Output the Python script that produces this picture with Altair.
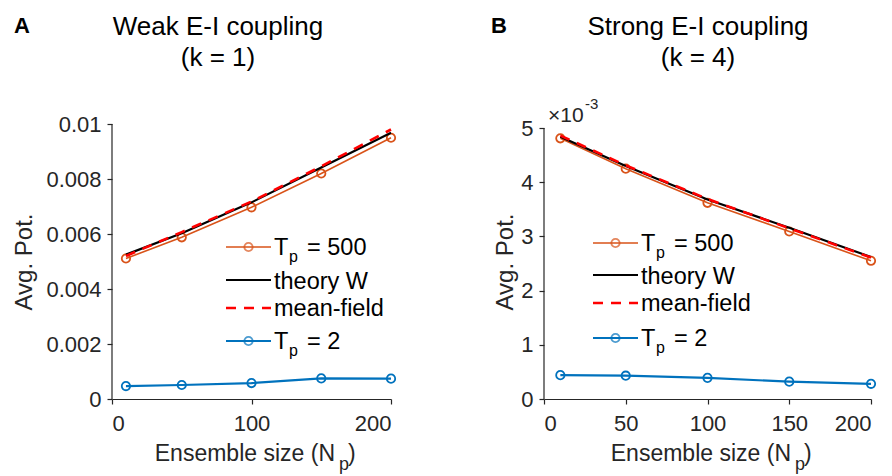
import altair as alt
import pandas as pd

# ---- data ----
ens_sizes = [10, 50, 100, 150, 200]

# Panel A (weak coupling, k = 1)
a_tp500 = [0.00511, 0.00588, 0.00697, 0.00820, 0.00950]
a_theory = [0.00525, 0.00603, 0.00715, 0.00842, 0.00968]
a_meanfield = [0.00520, 0.00607, 0.00718, 0.00846, 0.00980]
a_tp2 = [0.00047, 0.00051, 0.00058, 0.00075, 0.00074]

# Panel B (strong coupling, k = 4), values in units of 1e-3
b_tp500 = [4.81, 4.25, 3.62, 3.09, 2.55]
b_theory = [4.84, 4.30, 3.68, 3.16, 2.62]
b_meanfield = [4.86, 4.31, 3.69, 3.15, 2.61]
b_tp2 = [0.44, 0.43, 0.39, 0.32, 0.28]

a_xticks = [0, 100, 200]
b_xticks = [0, 50, 100, 150, 200]
a_yticks = [0, 0.002, 0.004, 0.006, 0.008, 0.01]
b_yticks = [0, 1, 2, 3, 4, 5]

series_names = ["Tp500", "theory", "meanfield", "Tp2"]

FONT = "Liberation Sans"
ORANGE = "#D95319"
BLUE = "#0072BD"
AXC = "#262626"
LEGF = 23.5


def one():
    return alt.Data(values=[{"a": 0}])


def txt(s, x, y, size=22, align="left", weight="normal", color="black"):
    return alt.Chart(one()).mark_text(
        text=s, align=align, baseline="alphabetic", fontSize=size,
        font=FONT, fontWeight=weight, color=color
    ).encode(x=alt.value(x), y=alt.value(y))


def panel(tp500, theory, mf, tp2, width, height, ydom, ytop, yticks, xticks,
          leg_x, leg_rows, title1, title2, tcx, tby, letter, lx, ly,
          xt_end, ytitle_pad, extra=None):
    rows = []
    for name, vals in zip(series_names, [tp500, theory, mf, tp2]):
        for xv, yv in zip(ens_sizes, vals):
            rows.append({"x": xv, "y": yv, "series": name})
    df = pd.DataFrame(rows)
    base = alt.Chart(df)
    X = alt.X("x:Q", scale=alt.Scale(domain=[0, 200], nice=False),
              axis=alt.Axis(values=xticks, title=None, format="d"))
    Y = alt.Y("y:Q", scale=alt.Scale(domain=ydom, nice=False),
              axis=alt.Axis(values=yticks, title="Avg. Pot.", format="~g",
                            domain=False, titlePadding=ytitle_pad))

    def flt(name):
        return base.transform_filter(alt.datum.series == name)

    # y axis line from 0 to the top tick value
    yline = alt.Chart(one()).mark_rule(color=AXC, strokeWidth=1.2).encode(
        x=alt.value(0), y=alt.Y(datum=0, scale=alt.Scale(domain=ydom, nice=False)),
        y2=alt.Y2(datum=ytop))

    l500 = flt("Tp500").mark_line(color=ORANGE, strokeWidth=1.6,
                                  point=alt.OverlayMarkDef(filled=False, color=ORANGE, size=70, strokeWidth=1.8)
                                  ).encode(x=X, y=Y)
    lth = flt("theory").mark_line(color="black", strokeWidth=2.2).encode(x=X, y=Y)
    lmf = flt("meanfield").mark_line(color="#FF0000", strokeWidth=2.6, strokeDash=[10, 8]).encode(x=X, y=Y)
    l2 = flt("Tp2").mark_line(color=BLUE, strokeWidth=2.2,
                              point=alt.OverlayMarkDef(filled=False, color=BLUE, size=70, strokeWidth=1.8)
                              ).encode(x=X, y=Y)

    layers = [l500, lth, lmf, l2, yline]

    # manual legend
    x0, x1 = leg_x, leg_x + 45
    xm = (x0 + x1) / 2
    tx = x1 + 3
    r500, rth, rmf, r2 = leg_rows

    def seg(y, color, sw, dash=None):
        kw = dict(color=color, strokeWidth=sw)
        if dash:
            kw["strokeDash"] = dash
        return alt.Chart(one()).mark_rule(**kw).encode(
            x=alt.value(x0), x2=alt.value(x1), y=alt.value(y))

    def mk(y, color):
        return alt.Chart(one()).mark_point(filled=False, color=color, size=70, strokeWidth=1.8).encode(
            x=alt.value(xm), y=alt.value(y))

    layers += [
        seg(r500, ORANGE, 1.6), mk(r500, ORANGE),
        txt("T", tx, r500 + 8, size=LEGF), txt("p", tx + 15, r500 + 15, size=16),
        txt("= 500", tx + 33, r500 + 8, size=LEGF),
        seg(rth, "black", 2.2), txt("theory W", tx, rth + 9, size=LEGF),
        seg(rmf, "#FF0000", 2.6, [10, 8]), txt("mean-field", tx, rmf + 8, size=LEGF),
        seg(r2, BLUE, 2.2), mk(r2, BLUE),
        txt("T", tx, r2 + 8, size=LEGF), txt("p", tx + 15, r2 + 15, size=16),
        txt("= 2", tx + 33, r2 + 8, size=LEGF),
    ]

    # titles and panel letter
    layers += [
        txt(title1, tcx, tby, size=26, align="center"),
        txt(title2, tcx, tby + 31, size=26, align="center"),
        txt(letter, lx, ly, size=22, weight="bold"),
    ]

    # x-axis title with subscript
    xb = height + 62
    layers += [
        txt("Ensemble size (N", xt_end, xb, size=23, align="right", color=AXC),
        txt("p", xt_end + 4, xb + 9, size=18, color=AXC),
        txt(")", xt_end + 13, xb, size=23, color=AXC),
    ]
    if extra:
        layers += extra
    return alt.layer(*layers).properties(width=width, height=height)


pa = panel(a_tp500, a_theory, a_meanfield, a_tp2, 279, 275, [0, 0.01], 0.01, a_yticks, a_xticks,
           leg_x=114, leg_rows=[123, 156, 184, 217],
           title1="Weak E-I coupling", title2="(k = 1)", tcx=106, tby=-89,
           letter="A", lx=-98, ly=-91, xt_end=223, ytitle_pad=9)

pb = panel(b_tp500, b_theory, b_meanfield, b_tp2, 327, 275, [0, 5 * 275 / 271], 5, b_yticks, b_xticks,
           leg_x=49, leg_rows=[119, 151, 179, 214],
           title1="Strong E-I coupling", title2="(k = 4)", tcx=154, tby=-89,
           letter="B", lx=-53, ly=-91, xt_end=247, ytitle_pad=3,
           extra=[txt("\u00d710", 4, -2, size=21, color=AXC),
                  txt("-3", 41, -15, size=15, color=AXC)])

chart = alt.hconcat(pa, pb, spacing=92).properties(
    padding={"left": 12, "top": 14, "right": 0, "bottom": 0},
    background="white",
).configure_view(stroke=None).configure_axis(
    labelFont=FONT, labelFontSize=22, labelColor=AXC, labelPadding=6,
    titleFont=FONT, titleFontSize=24, titleFontWeight="normal", titleColor=AXC,
    domainColor=AXC, tickColor=AXC, tickSize=5,
    domainWidth=1.2, tickWidth=1.2, grid=False,
).configure_axisX(labelPadding=9)

chart.save("out.html", embed_options={"renderer": "svg", "actions": False})
